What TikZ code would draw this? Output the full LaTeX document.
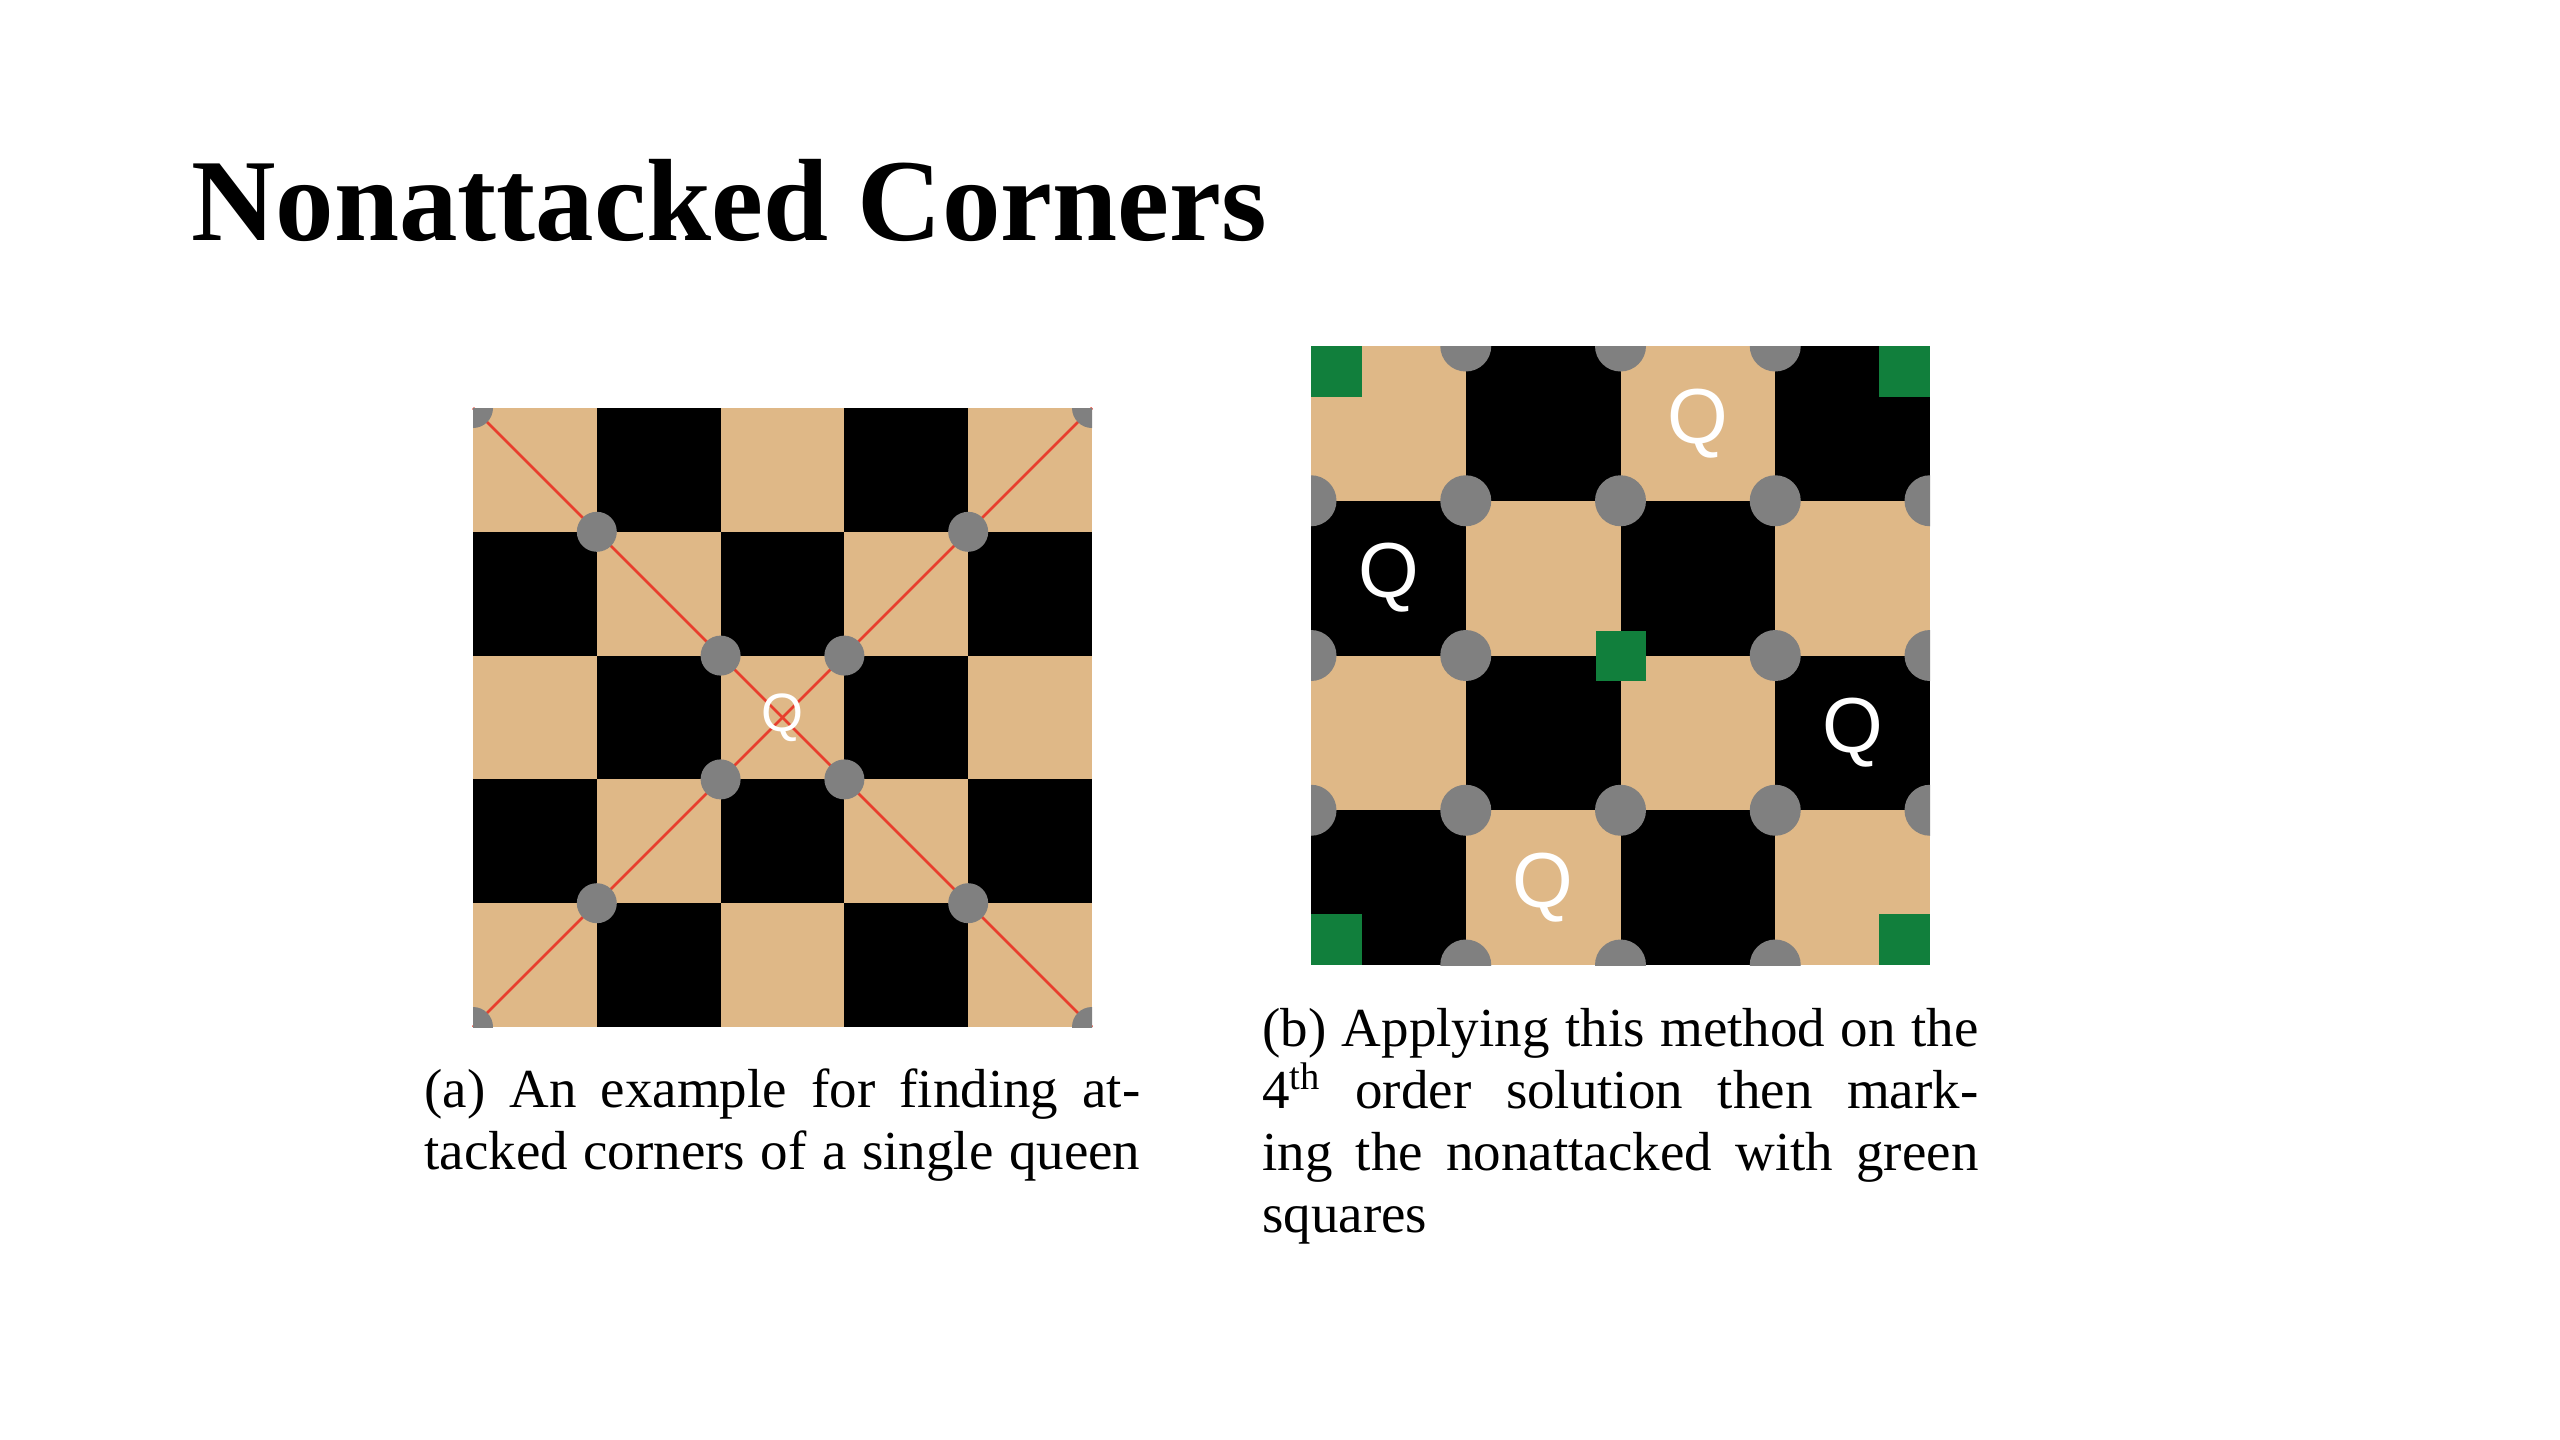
\documentclass[tikz,border=0pt]{standalone}
\usepackage{fontspec}
\setmainfont{Liberation Serif}
\newfontfamily\qfont{Liberation Sans}
\definecolor{tanc}{RGB}{223,184,135}
\definecolor{grayc}{RGB}{128,128,128}
\definecolor{greenc}{RGB}{17,127,60}
\definecolor{redc}{RGB}{232,62,45}
\newcommand{\jline}[1]{\makebox[358pt][s]{\spaceskip=0pt \xspaceskip=0pt #1}}
\tikzset{
  redline/.style={draw=redc, line width=1.3pt},
  dot/.style={fill=grayc},
  safe/.style={fill=greenc},
  queenL/.style={text=white, font=\qfont\fontsize{27}{27}\selectfont, inner sep=0pt},
  queenR/.style={text=white, font=\qfont\fontsize{39}{39}\selectfont, inner sep=0pt},
  caption/.style={anchor=base west, inner sep=0pt, text width=358pt, align=justify,
    font=\fontsize{27.5}{31}\selectfont},
  title/.style={anchor=base west, inner sep=0pt, font=\bfseries\fontsize{58.5}{60}\selectfont}
}
\begin{document}
\begin{tikzpicture}[x=0.5pt,y=-0.5pt]
\useasboundingbox[fill=white] (0,0) rectangle (2560,1440);

\node[title] (title) at (191,240) {Nonattacked Corners};

% ---------- left board (5x5) ----------
\def\Lx{473}\def\Ly{408}\def\Lc{123.8}
\coordinate (LTL) at (\Lx,\Ly);
\coordinate (LTR) at ({\Lx+5*\Lc},\Ly);
\coordinate (LBL) at (\Lx,{\Ly+5*\Lc});
\coordinate (LBR) at ({\Lx+5*\Lc},{\Ly+5*\Lc});
\fill[tanc] (LTL) rectangle (LBR);
\foreach \i in {0,...,4}{\foreach \j in {0,...,4}{
  \pgfmathparse{int(mod(\i+\j,2))}
  \ifnum\pgfmathresult=1
    \fill[black] ({\Lx+\i*\Lc},{\Ly+\j*\Lc}) rectangle ++(\Lc,\Lc);
  \fi}}
\draw[redline] (LTL) -- (LBR);
\draw[redline] (LTR) -- (LBL);
\begin{scope}
\clip (LTL) rectangle (LBR);
\foreach \a/\b in {0/0,5/0,0/5,5/5,1/1,4/1,2/2,3/2,2/3,3/3,1/4,4/4}
  \fill[dot] ({\Lx+\a*\Lc},{\Ly+\b*\Lc}) circle[radius=10pt];
\end{scope}
\node[queenL] (qa) at ({\Lx+2.5*\Lc},{\Ly+2.5*\Lc}) {Q};

% ---------- right board (4x4) ----------
\def\Rx{1311}\def\Ry{346}\def\Rc{154.75}
\coordinate (RTL) at (\Rx,\Ry);
\coordinate (RBR) at ({\Rx+4*\Rc},{\Ry+4*\Rc});
\fill[tanc] (RTL) rectangle (RBR);
\foreach \i in {0,...,3}{\foreach \j in {0,...,3}{
  \pgfmathparse{int(mod(\i+\j,2))}
  \ifnum\pgfmathresult=1
    \fill[black] ({\Rx+\i*\Rc},{\Ry+\j*\Rc}) rectangle ++(\Rc,\Rc);
  \fi}}
\begin{scope}
\clip (RTL) rectangle (RBR);
\foreach \a/\b in {1/0,2/0,3/0,0/1,1/1,2/1,3/1,4/1,0/2,1/2,3/2,4/2,0/3,1/3,2/3,3/3,4/3,1/4,2/4,3/4}
  \fill[dot] ({\Rx+\a*\Rc},{\Ry+\b*\Rc}) circle[radius=12.75pt];
\end{scope}
% green (nonattacked) corners
\fill[safe] (\Rx,\Ry) rectangle ++(51,51);
\fill[safe] ({\Rx+4*\Rc},\Ry) rectangle ++(-51,51);
\fill[safe] (\Rx,{\Ry+4*\Rc}) rectangle ++(51,-51);
\fill[safe] ({\Rx+4*\Rc},{\Ry+4*\Rc}) rectangle ++(-51,-51);
\fill[safe] ({\Rx+2*\Rc-25},{\Ry+2*\Rc-25}) rectangle ++(50,50);
\node[queenR] (q1) at ({\Rx+2.5*\Rc},{\Ry+0.5*\Rc}) {Q};
\node[queenR] (q2) at ({\Rx+0.5*\Rc},{\Ry+1.5*\Rc}) {Q};
\node[queenR] (q3) at ({\Rx+3.5*\Rc},{\Ry+2.5*\Rc}) {Q};
\node[queenR] (q4) at ({\Rx+1.5*\Rc},{\Ry+3.5*\Rc}) {Q};

% ---------- captions ----------
\node[caption] (capa) at (424,1107) {%
\jline{(a) An example for finding at-}\\
\jline{tacked corners of a single queen}};
\node[caption] (capb) at (1262,1046) {%
\jline{(b) Applying this method on the}\\
\jline{4\textsuperscript{th} order solution then mark-}\\
\jline{ing the nonattacked with green}\\
\mbox{squares}};
\end{tikzpicture}
\end{document}
